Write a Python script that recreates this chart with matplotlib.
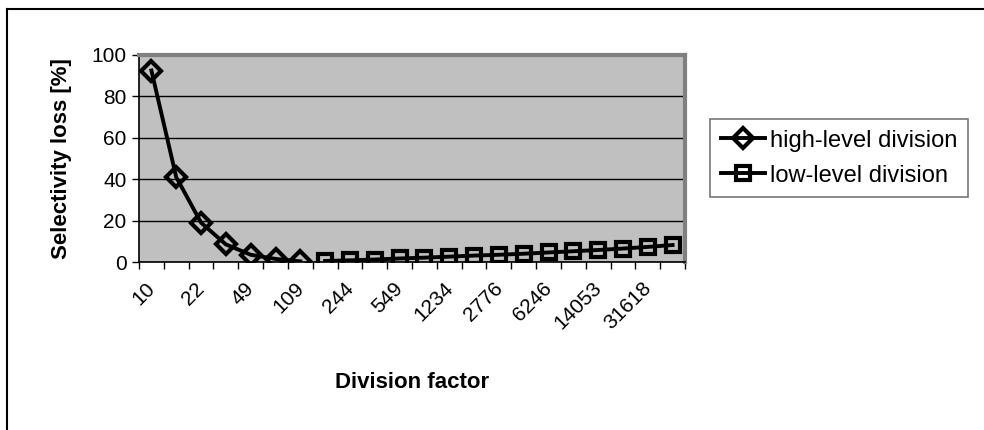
import matplotlib.pyplot as plt
from matplotlib.lines import Line2D
import matplotlib.transforms as mtransforms
import numpy as np

plt.rcParams['font.family'] = ['Liberation Sans', 'DejaVu Sans']

# division factors (every category; only every other one is labelled)
factors = [10, 15, 22, 33, 49, 73, 109, 163, 244, 366, 549, 823, 1234, 1851,
           2776, 4164, 6246, 9369, 14053, 21079, 31618, 47427]
high_level = [92.5, 41, 19, 8.5, 3.5, 1.5, 0.3]
low_level = [0.5, 0.8, 1.2, 1.7, 2.1, 2.6, 3.1, 3.5, 4.0, 4.6, 5.2, 5.8, 6.5, 7.3, 8.2]

x = np.arange(len(factors))
x_high = x[:len(high_level)]
x_low = x[len(high_level):len(high_level) + len(low_level)]

fig = plt.figure(figsize=(9.84, 4.3), dpi=100)
ax = fig.add_axes([139 / 984, 1 - 262 / 430, 546 / 984, 207 / 430])
ax.set_facecolor('#c0c0c0')

ax.plot(x_high, high_level, color='black', lw=2.8, marker='D', ms=10.5,
        mfc='none', mec='black', mew=3, label='high-level division')
ax.plot(x_low, low_level, color='black', lw=2.8, marker='s', ms=10.5,
        mfc='none', mec='black', mew=3, label='low-level division')

ax.set_xlim(-0.5, len(factors) - 0.5)
ax.set_ylim(0, 100)
ax.set_yticks(range(0, 101, 20))
ax.yaxis.grid(True, color='black', lw=1)
ax.set_axisbelow(True)

ax.set_xticks(x[::2])
ax.set_xticklabels([str(f) for f in factors[::2]], rotation=45, ha='right',
                   rotation_mode='anchor')
ax.set_xticks(np.arange(-0.5, len(factors)), minor=True)
ax.tick_params(axis='x', which='major', length=0, labelsize=15, pad=12)
ax.tick_params(axis='x', which='minor', length=5, width=1, direction='out')
ax.tick_params(axis='y', length=5, width=1, direction='out', labelsize=15, pad=4)

# shift the slanted labels a little to the left
shift = mtransforms.ScaledTranslation(-6 / 100, 0, fig.dpi_scale_trans)
for lbl in ax.get_xticklabels():
    lbl.set_transform(lbl.get_transform() + shift)

for s in ['left', 'bottom']:
    ax.spines[s].set_color('black')
    ax.spines[s].set_linewidth(1.2)
for s in ['top', 'right']:
    ax.spines[s].set_color('#808080')
    ax.spines[s].set_linewidth(3)

ax.set_ylabel('Selectivity loss [%]', fontsize=16, fontweight='bold', labelpad=14)
ax.set_xlabel('Division factor', fontsize=16, fontweight='bold', labelpad=28)

leg = fig.legend(loc='upper left', bbox_to_anchor=(710 / 984, 1 - 119 / 430),
                 fontsize=17, frameon=True, fancybox=False, edgecolor='#555555',
                 handlelength=1.9, borderaxespad=0, labelspacing=0.55,
                 handletextpad=0.2, borderpad=0.45)
leg.get_frame().set_linewidth(1.2)

# chart area border (left and top visible)
fig.add_artist(Line2D([7 / 984, 7 / 984], [0, 1 - 9 / 430], color='black', lw=1.5))
fig.add_artist(Line2D([7 / 984, 1], [1 - 9 / 430, 1 - 9 / 430], color='black', lw=1.5))

fig.savefig('out.png', dpi=100)
